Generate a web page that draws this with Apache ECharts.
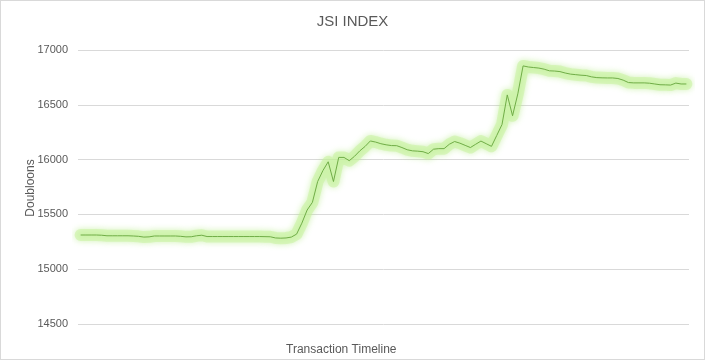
<!DOCTYPE html>
<html>
<head>
<meta charset="utf-8">
<script src="https://cdn.jsdelivr.net/npm/echarts@6/dist/echarts.min.js"></script>
<style>
html,body{margin:0;padding:0;background:#fff;}
#c{width:705px;height:360px;box-sizing:border-box;border:1px solid #d9d9d9;}
</style>
</head>
<body>
<div id="c"></div>
<script>
const chartTitle = 'JSI INDEX';
const yAxisTitle = 'Doubloons';
const xAxisTitle = 'Transaction Timeline';
const yTicks = [14500, 15000, 15500, 16000, 16500, 17000];
const jsiValues = [
  15312, 15312, 15312, 15312, 15310, 15305, 15305, 15305, 15305, 15305,
  15303, 15300, 15293, 15295, 15303, 15303, 15303, 15303, 15303, 15300,
  15295, 15296, 15305, 15310, 15298, 15298, 15298, 15298, 15298, 15298,
  15298, 15298, 15298, 15298, 15298, 15297, 15296, 15285, 15283, 15285,
  15293, 15320, 15420, 15540, 15610, 15800, 15900, 15980, 15800, 16020,
  16020, 15990, 16030, 16080, 16120, 16170, 16160, 16145, 16135, 16128,
  16127, 16110, 16090, 16080, 16077, 16072, 16055, 16095, 16100, 16100,
  16140, 16165, 16150, 16130, 16110, 16140, 16169, 16145, 16121, 16220,
  16320, 16590, 16400, 16600, 16855, 16845, 16840, 16835, 16825, 16810,
  16808, 16803, 16790, 16780, 16775, 16770, 16767, 16755, 16748, 16746,
  16745, 16745, 16740, 16725, 16703, 16700, 16700, 16700, 16697, 16690,
  16683, 16682, 16680, 16698, 16690, 16690
];
const categories = jsiValues.map((v, i) => String(i + 1));

const chart = echarts.init(document.getElementById('c'), null, {renderer: 'canvas'});
const txt = '#595959';
const font = 'Liberation Sans';
chart.setOption({
  animation: false,
  backgroundColor: '#ffffff',
  title: {
    text: chartTitle, left: 'center', top: 8,
    textStyle: {color: txt, fontSize: 15, fontWeight: 'normal', fontFamily: font}
  },
  grid: {left: 77, right: 15, top: 49, bottom: 35, containLabel: false},
  xAxis: {
    type: 'category', data: categories, boundaryGap: true,
    axisLine: {show: false}, axisTick: {show: false}, axisLabel: {show: false},
    splitLine: {show: false}
  },
  yAxis: {
    type: 'value', min: yTicks[0], max: yTicks[yTicks.length - 1], interval: 500,
    axisLine: {show: false}, axisTick: {show: false},
    axisLabel: {color: txt, fontSize: 11, fontFamily: font, margin: 10, formatter: v => String(v)},
    splitLine: {lineStyle: {color: '#d9d9d9', width: 1}}
  },
  graphic: [
    {
      type: 'text', left: 285, top: 343,
      style: {text: xAxisTitle, fill: txt, font: '12px "Liberation Sans"'}
    },
    {
      type: 'text', x: 30, y: 187, rotation: Math.PI / 2,
      style: {text: yAxisTitle, fill: txt, font: '12px "Liberation Sans"', align: 'center', verticalAlign: 'middle'}
    }
  ],
  series: [
    {
      type: 'line', data: jsiValues, symbol: 'none', silent: true,
      lineStyle: {width: 12, color: 'rgba(200,242,160,0.55)', shadowBlur: 6, shadowColor: 'rgba(165,230,110,0.9)', join: 'round', cap: 'round'},
      z: 1
    },
    {
      type: 'line', data: jsiValues, symbol: 'none',
      lineStyle: {width: 1, color: '#70ad47'},
      z: 2
    }
  ]
});
</script>
</body>
</html>
